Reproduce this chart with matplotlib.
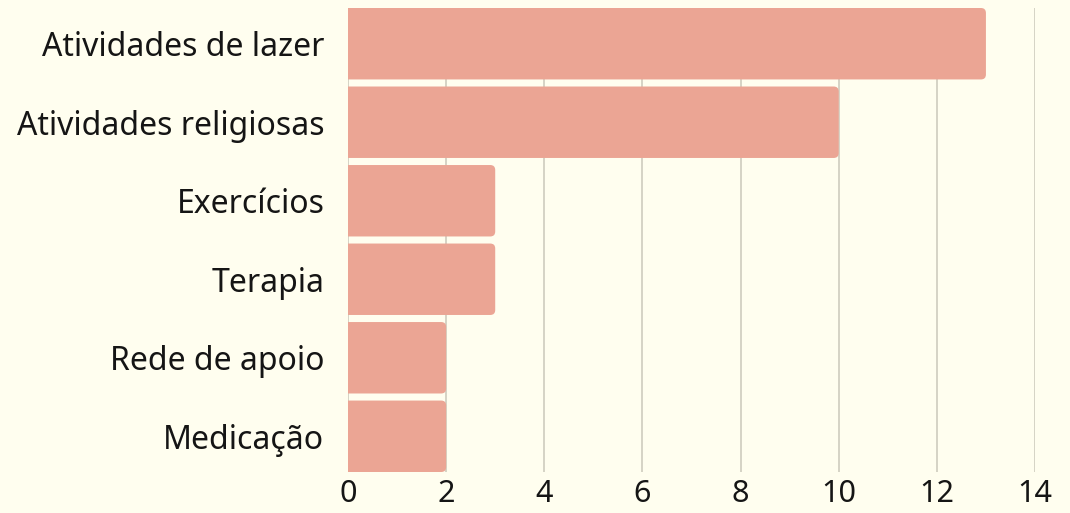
import matplotlib.pyplot as plt
from matplotlib.patches import FancyBboxPatch

# dados
categorias = ["Atividades de lazer", "Atividades religiosas", "Exercícios",
              "Terapia", "Rede de apoio", "Medicação"]
valores = [13, 10, 3, 3, 2, 2]
xticks = [0, 2, 4, 6, 8, 10, 12, 14]

BG = "#FFFEEF"
BAR = "#EBA594"
H = 0.91

plt.rcParams["font.family"] = ["Noto Sans", "DejaVu Sans"]

fig = plt.figure(figsize=(10.7, 5.13), dpi=100, facecolor=BG)
ax = fig.add_axes([348 / 1070, 1 - 472 / 513, 687 / 1070, 464 / 513])
ax.set_facecolor(BG)

ys = list(range(len(categorias)))
ax.set_xlim(0, 14)
ax.set_ylim(len(categorias) - 1 + H / 2, -H / 2)

# cantos arredondados: corrige a proporcao entre unidades x e y
fig.canvas.draw()
bb = ax.get_window_extent()
ux = 14 / bb.width
uy = (len(categorias) - 1 + H) / bb.height
r = 5 * ux
for y, v in zip(ys, valores):
    p = FancyBboxPatch((-r, y - H / 2), v + r, H,
                       boxstyle="round,pad=0,rounding_size=%f" % r,
                       mutation_aspect=uy / ux,
                       facecolor=BAR, edgecolor="none", zorder=2)
    ax.add_patch(p)

ax.set_xticks(xticks)
ax.set_yticks(ys)
ax.set_yticklabels(categorias)
ax.grid(axis="x", color="#D2D0C2", linewidth=1.3, zorder=0)
ax.set_axisbelow(True)
for s in ax.spines.values():
    s.set_visible(False)
ax.tick_params(axis="y", length=0, labelsize=23, colors="#151515", pad=17)
ax.tick_params(axis="x", length=0, labelsize=22, colors="#151515", pad=5)

plt.savefig("out.png", dpi=100, facecolor=BG)
